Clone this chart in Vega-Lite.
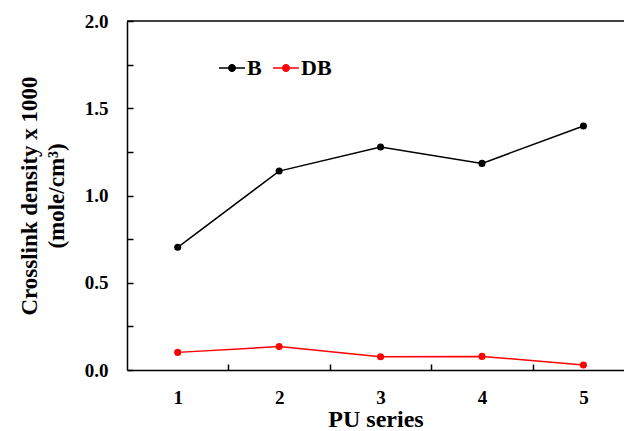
{
  "$schema": "https://vega.github.io/schema/vega-lite/v6.json",
  "width": 497,
  "height": 349,
  "autosize": {"type": "none"},
  "padding": {"left": 127, "top": 21, "right": 0, "bottom": 61},
  "background": "white",
  "config": {"view": {"stroke": null}, "font": "Liberation Serif"},
  "data": {
    "values": [
      {"pu": 1, "density": 0.703, "series": "B"},
      {"pu": 2, "density": 1.14, "series": "B"},
      {"pu": 3, "density": 1.278, "series": "B"},
      {"pu": 4, "density": 1.184, "series": "B"},
      {"pu": 5, "density": 1.398, "series": "B"},
      {"pu": 1, "density": 0.101, "series": "DB"},
      {"pu": 2, "density": 0.134, "series": "DB"},
      {"pu": 3, "density": 0.076, "series": "DB"},
      {"pu": 4, "density": 0.078, "series": "DB"},
      {"pu": 5, "density": 0.029, "series": "DB"}
    ]
  },
  "layer": [
    {
      "mark": {"type": "line", "strokeWidth": 1.5},
      "encoding": {
        "x": {
          "field": "pu",
          "type": "quantitative",
          "scale": {"domain": [0.5, 5.4], "nice": false, "zero": false},
          "axis": {
            "values": [1, 1.5, 2, 2.5, 3, 3.5, 4, 4.5, 5],
            "labelExpr": "datum.value % 1 == 0 ? format(datum.value, 'd') : ''",
            "tickColor": {"condition": {"test": "datum.value % 1 == 0", "value": "transparent"}, "value": "black"},
            "tickSize": -6,
            "tickWidth": 1.5,
            "grid": false,
            "labelFlush": false,
            "labelPadding": 24,
            "labelFontSize": 19,
            "labelFontWeight": "bold",
            "labelColor": "black",
            "domainColor": "black",
            "domainWidth": 1.5,
            "title": "PU series",
            "titleFontSize": 24,
            "titleFontWeight": "bold",
            "titleColor": "black",
            "titlePadding": 0
          }
        },
        "y": {
          "field": "density",
          "type": "quantitative",
          "scale": {"domain": [0, 2], "nice": false},
          "axis": {
            "values": [0, 0.25, 0.5, 0.75, 1, 1.25, 1.5, 1.75, 2],
            "labelExpr": "datum.value % 0.5 == 0 ? format(datum.value, '.1f') : ''",
            "tickSize": -6,
            "tickWidth": 1.5,
            "tickColor": "black",
            "grid": false,
            "labelPadding": 25,
            "labelFontSize": 19,
            "labelFontWeight": "bold",
            "labelColor": "black",
            "domainColor": "black",
            "domainWidth": 1.5,
            "title": ["Crosslink density x 1000", "(mole/cm³)"],
            "titleFontSize": 23,
            "titleFontWeight": "bold",
            "titleColor": "black",
            "titleLineHeight": 27,
            "titlePadding": 16
          }
        },
        "color": {
          "field": "series",
          "type": "nominal",
          "scale": {"domain": ["B", "DB"], "range": ["black", "red"]},
          "legend": {
            "orient": "none",
            "legendX": 91,
            "legendY": 33,
            "direction": "horizontal",
            "title": null,
            "padding": 0,
            "labelFontSize": 22,
            "labelFontWeight": "bold",
            "labelColor": "black",
            "labelOffset": 1,
            "columnPadding": 8,
            "symbolType": "M-1,0H1M-0.25,0A0.25,0.25 0 1,0 0.25,0A0.25,0.25 0 1,0 -0.25,0Z",
            "symbolSize": 676,
            "symbolStrokeWidth": 1.5
          }
        }
      }
    },
    {
      "mark": {"type": "point", "filled": true, "size": 50, "opacity": 1},
      "encoding": {
        "x": {"field": "pu", "type": "quantitative"},
        "y": {"field": "density", "type": "quantitative"},
        "color": {"field": "series", "type": "nominal"}
      }
    },
    {
      "data": {"values": [{"top": 2}]},
      "mark": {"type": "rule", "color": "black", "strokeWidth": 1.5},
      "encoding": {"y": {"field": "top", "type": "quantitative"}}
    }
  ]
}
